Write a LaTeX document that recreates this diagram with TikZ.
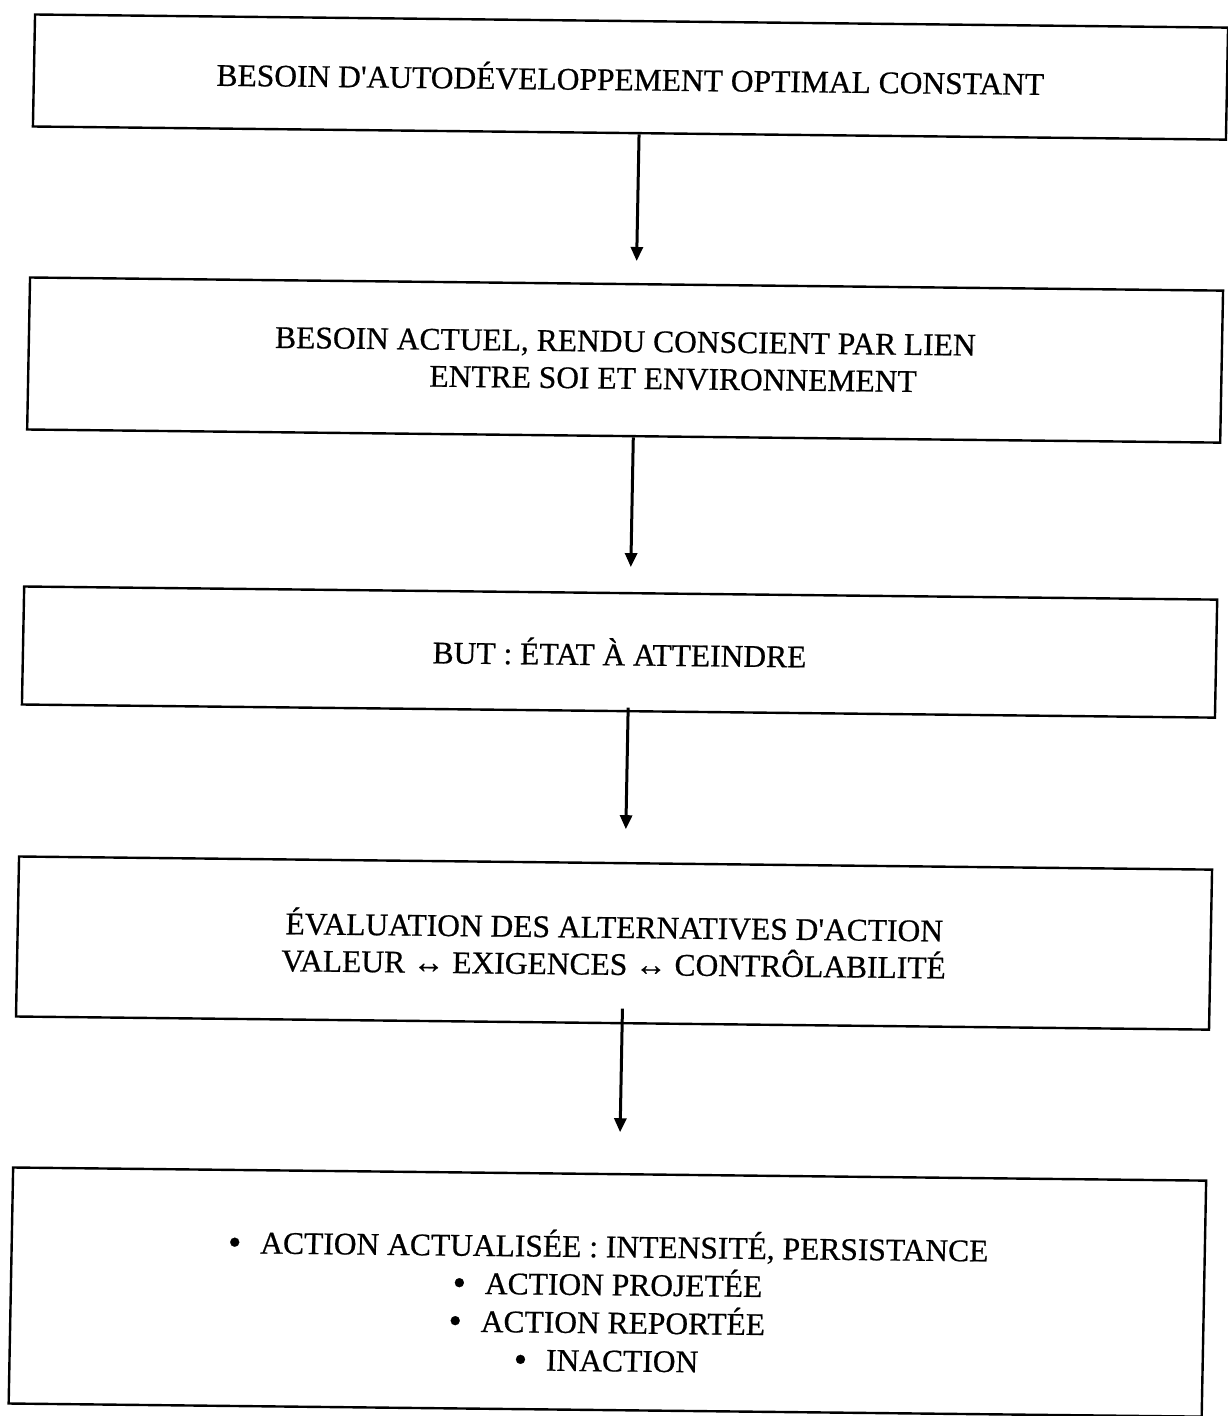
\documentclass[tikz,border=0pt]{standalone}
\usepackage{fontspec}
\setmainfont{Liberation Serif}[BoldFont={Liberation Serif}, BoldFeatures={FakeBold=0.6}]
\usetikzlibrary{arrows.meta}
\newcommand{\itembullet}{\raisebox{-1.5pt}{\scalebox{1.2}{•}}\hspace{19pt}}
\begin{document}
\begin{tikzpicture}[x=1pt,y=-1pt,
  stage/.style={draw=black, line width=2.4pt, rectangle, minimum width=1193pt,
    inner sep=0pt, text=black, align=center,
    font=\fontsize{31.5pt}{37pt}\bfseries},
  flow/.style={draw=black, line width=3pt,
    -{Triangle[length=14pt,width=12pt]}}]
\useasboundingbox (0,0) rectangle (1227,1416);
\fill[white] (0,0) rectangle (1227,1416);
% the whole chart sits slightly sheared on the page
\begin{scope}[shift={(613,708)}, cm={1,-0.011,0.019,1,(0,0)}, shift={(-613,-708)}, transform shape]
  \node[stage, minimum height=112pt] (b1) at (618.5,77)
    {BESOIN D\textquotesingle AUTODÉVELOPPEMENT OPTIMAL CONSTANT};
  \node[stage, minimum height=152pt, align=left] (b2) at (618.5,360)
    {BESOIN ACTUEL, RENDU CONSCIENT PAR LIEN\\\hspace*{155pt}ENTRE SOI ET ENVIRONNEMENT};
  \node[stage, minimum height=118pt] (b3) at (618.5,652)
    {BUT : ÉTAT À ATTEINDRE};
  \node[stage, minimum height=160pt] (b4) at (618.5,943)
    {ÉVALUATION DES ALTERNATIVES D\textquotesingle ACTION\\VALEUR ↔ EXIGENCES ↔ CONTRÔLABILITÉ};
  \node[stage, minimum height=236pt,
        font=\fontsize{31.5pt}{38pt}\bfseries] (b5) at (618.5,1292)
    {\rule{0pt}{46pt}\itembullet ACTION ACTUALISÉE : INTENSITÉ, PERSISTANCE\\
     \itembullet ACTION PROJETÉE\\
     \itembullet ACTION REPORTÉE\\
     \itembullet INACTION};
  % connectors between the stages
  \draw[flow] ([xshift=9.5pt]b1.south) -- ([xshift=9.5pt,yshift=22pt]b2.north);
  \draw[flow] ([xshift=9.5pt]b2.south) -- ([xshift=9.5pt,yshift=25pt]b3.north);
  \draw[flow] ([xshift=9.5pt,yshift=5pt]b3.south) -- ([xshift=9.5pt,yshift=33pt]b4.north);
  \draw[flow] ([xshift=9.5pt,yshift=16pt]b4.south) -- ([xshift=9.5pt,yshift=41pt]b5.north);
\end{scope}
\end{tikzpicture}
\end{document}
